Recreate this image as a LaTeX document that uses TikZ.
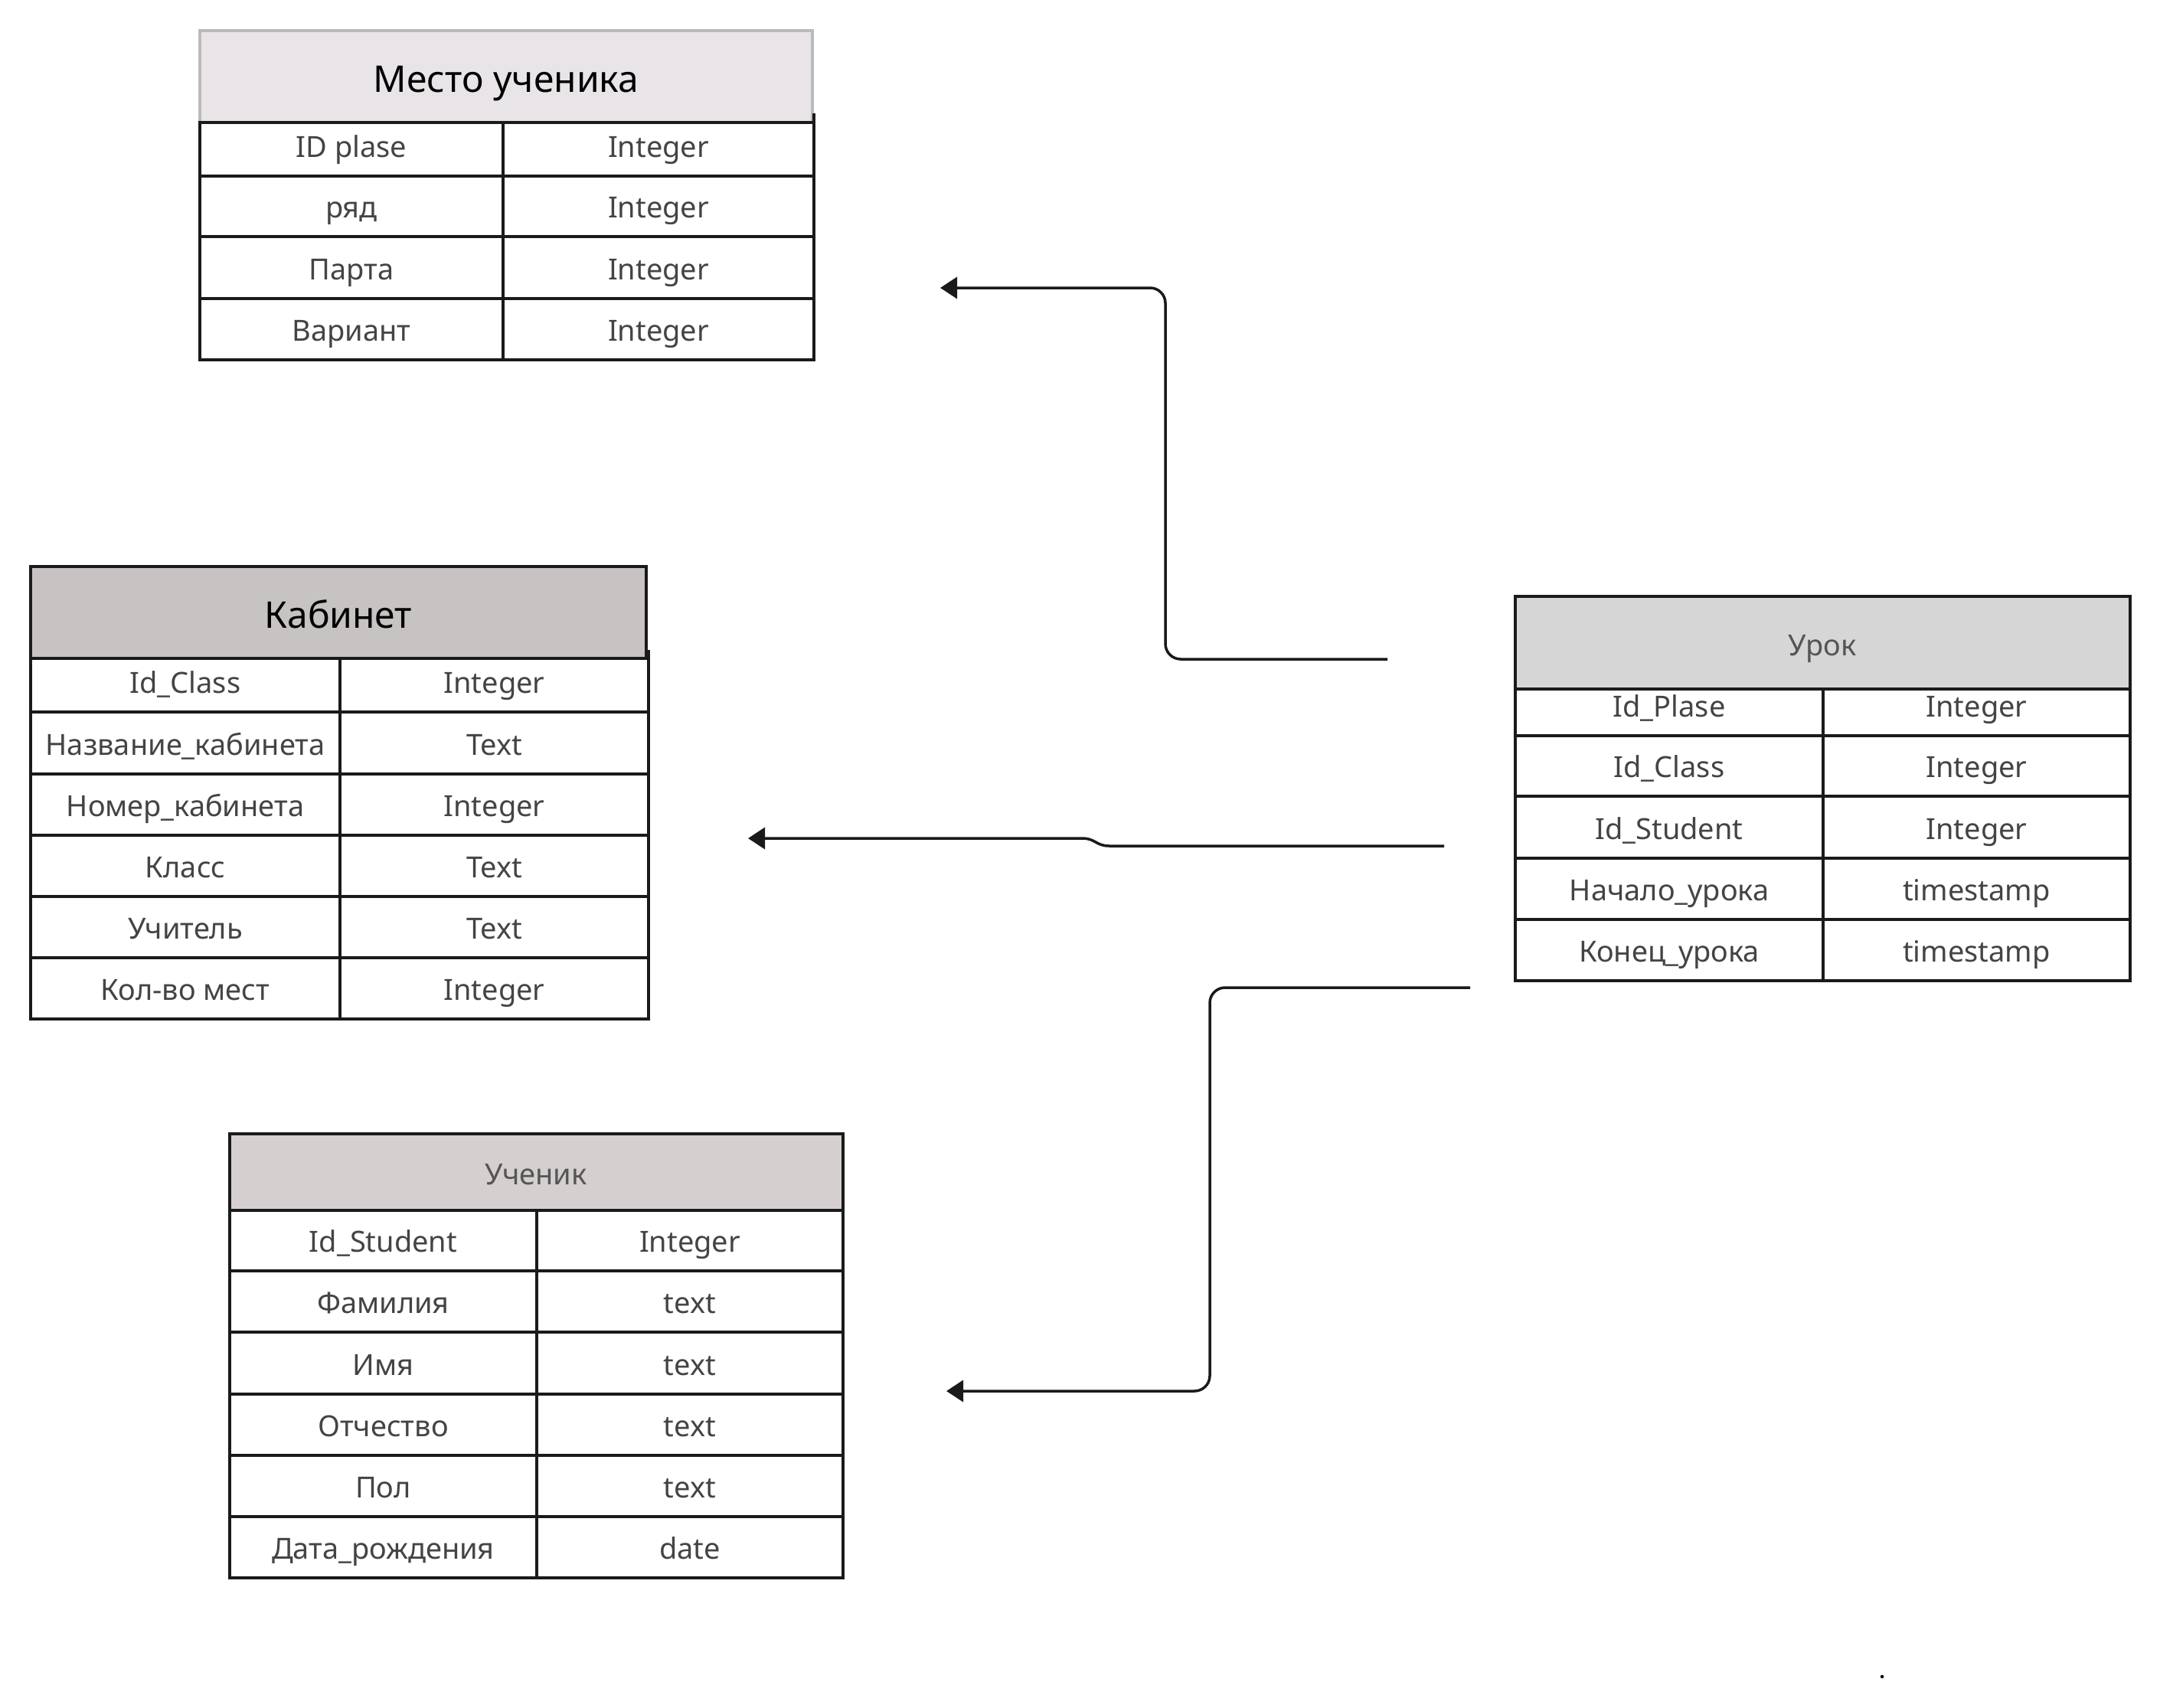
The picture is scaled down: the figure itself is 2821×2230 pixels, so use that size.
\documentclass[tikz,border=0pt]{standalone}
\usepackage{fontspec}
\setmainfont{Noto Sans}
\usetikzlibrary{arrows.meta}
\definecolor{hdrA}{HTML}{E8E4E7}
\definecolor{hdrAline}{HTML}{BABABA}
\definecolor{hdrB}{HTML}{C8C3C3}
\definecolor{hdrC}{HTML}{D6D6D6}
\definecolor{hdrD}{HTML}{D5CFCF}
\definecolor{bodytxt}{HTML}{444444}
\definecolor{greytxt}{HTML}{555555}
\definecolor{linecol}{HTML}{1A1A1A}
\tikzset{
  cellline/.style={draw=linecol, line width=3.5pt},
  celltext/.style={inner sep=0pt, text height=27pt, text depth=0pt, text=bodytxt, font=\fontsize{38}{46}\selectfont},
  bigtitle/.style={inner sep=0pt, text height=34pt, text depth=0pt, text=black, font=\fontsize{48}{58}\selectfont},
  smalltitle/.style={inner sep=0pt, text height=27pt, text depth=0pt, text=greytxt, font=\fontsize{38}{46}\selectfont},
  conn/.style={draw=linecol, line width=3.5pt},
  roundconn/.style={conn, rounded corners=20pt},
  arrowhd/.style={-{Triangle[length=22pt,width=28pt]}}
}
\newcommand\ercell[6]{%
  \draw[cellline] (#2,#4) rectangle (#3,#5);
  \node[celltext] (#1) at ({(#2+#3)/2},{#5-38}) {#6};}
\begin{document}
\begin{tikzpicture}[x=1pt,y=-1pt]
\useasboundingbox (0,0) rectangle (2821,2230);
\fill[white] (0,0) rectangle (2821,2230);

% ---------- Место ученика ----------
\draw[fill=hdrA, draw=hdrAline, line width=3.5pt] (261,40) rectangle (1061,160);
\node[bigtitle] (t1h) at (661,103) {Место ученика};
\ercell{t1r1a}{261}{657}{160}{230}{ID plase}
\ercell{t1r1b}{657}{1063}{160}{230}{Integer}
\ercell{t1r2a}{261}{657}{230}{309}{ряд}
\ercell{t1r2b}{657}{1063}{230}{309}{Integer}
\ercell{t1r3a}{261}{657}{309}{390}{Парта}
\ercell{t1r3b}{657}{1063}{309}{390}{Integer}
\ercell{t1r4a}{261}{657}{390}{470}{Вариант}
\ercell{t1r4b}{657}{1063}{390}{470}{Integer}
\draw[cellline] (1063,148) -- (1063,160);

% ---------- Кабинет ----------
\draw[fill=hdrB, cellline] (40,740) rectangle (844,860);
\node[bigtitle] (t2h) at (442,803) {Кабинет};
\ercell{t2r1a}{40}{444}{860}{930}{Id\_Class}
\ercell{t2r1b}{444}{847}{860}{930}{Integer}
\ercell{t2r2a}{40}{444}{930}{1011}{Название\_кабинета}
\ercell{t2r2b}{444}{847}{930}{1011}{Text}
\ercell{t2r3a}{40}{444}{1011}{1091}{Номер\_кабинета}
\ercell{t2r3b}{444}{847}{1011}{1091}{Integer}
\ercell{t2r4a}{40}{444}{1091}{1171}{Класс}
\ercell{t2r4b}{444}{847}{1091}{1171}{Text}
\ercell{t2r5a}{40}{444}{1171}{1251}{Учитель}
\ercell{t2r5b}{444}{847}{1171}{1251}{Text}
\ercell{t2r6a}{40}{444}{1251}{1331}{Кол-во мест}
\ercell{t2r6b}{444}{847}{1251}{1331}{Integer}
\draw[cellline] (847,849) -- (847,860);

% ---------- Урок ----------
\draw[fill=hdrC, cellline] (1979,779) rectangle (2782,900);
\node[smalltitle] (t3h) at (2380,843) {Урок};
\ercell{t3r1a}{1979}{2381}{900}{961}{Id\_Plase}
\ercell{t3r1b}{2381}{2782}{900}{961}{Integer}
\ercell{t3r2a}{1979}{2381}{961}{1040}{Id\_Class}
\ercell{t3r2b}{2381}{2782}{961}{1040}{Integer}
\ercell{t3r3a}{1979}{2381}{1040}{1121}{Id\_Student}
\ercell{t3r3b}{2381}{2782}{1040}{1121}{Integer}
\ercell{t3r4a}{1979}{2381}{1121}{1201}{Начало\_урока}
\ercell{t3r4b}{2381}{2782}{1121}{1201}{timestamp}
\ercell{t3r5a}{1979}{2381}{1201}{1281}{Конец\_урока}
\ercell{t3r5b}{2381}{2782}{1201}{1281}{timestamp}

% ---------- Ученик ----------
\draw[fill=hdrD, cellline] (300,1481) rectangle (1101,1581);
\node[smalltitle] (t4h) at (700,1534) {Ученик};
\ercell{t4r1a}{300}{701}{1581}{1660}{Id\_Student}
\ercell{t4r1b}{701}{1101}{1581}{1660}{Integer}
\ercell{t4r2a}{300}{701}{1660}{1740}{Фамилия}
\ercell{t4r2b}{701}{1101}{1660}{1740}{text}
\ercell{t4r3a}{300}{701}{1740}{1821}{Имя}
\ercell{t4r3b}{701}{1101}{1740}{1821}{text}
\ercell{t4r4a}{300}{701}{1821}{1901}{Отчество}
\ercell{t4r4b}{701}{1101}{1821}{1901}{text}
\ercell{t4r5a}{300}{701}{1901}{1981}{Пол}
\ercell{t4r5b}{701}{1101}{1901}{1981}{text}
\ercell{t4r6a}{300}{701}{1981}{2061}{Дата\_рождения}
\ercell{t4r6b}{701}{1101}{1981}{2061}{date}

% ---------- connectors ----------
\coordinate (c1s) at (1812,861);
\coordinate (c1m) at (1522,600);
\coordinate (c1e) at (1228,376);
\draw[roundconn, arrowhd] (c1s) -| (c1m) |- (c1e);

\coordinate (c2s) at (1886,1105);
\coordinate (c2a) at (1449,1105);
\coordinate (c2b) at (1413,1095);
\coordinate (c2e) at (977,1095);
\draw[conn, arrowhd] (c2s) -- (c2a) .. controls (1431,1105) and (1431,1095) .. (c2b) -- (c2e);

\coordinate (c3s) at (1920,1290);
\coordinate (c3m) at (1580,1550);
\coordinate (c3e) at (1236,1817);
\draw[roundconn, arrowhd] (c3s) -| (c3m) |- (c3e);

\node[circle, fill=black, inner sep=0pt, minimum size=4.5pt] (dot) at (2458,2190) {};
\end{tikzpicture}
\end{document}
